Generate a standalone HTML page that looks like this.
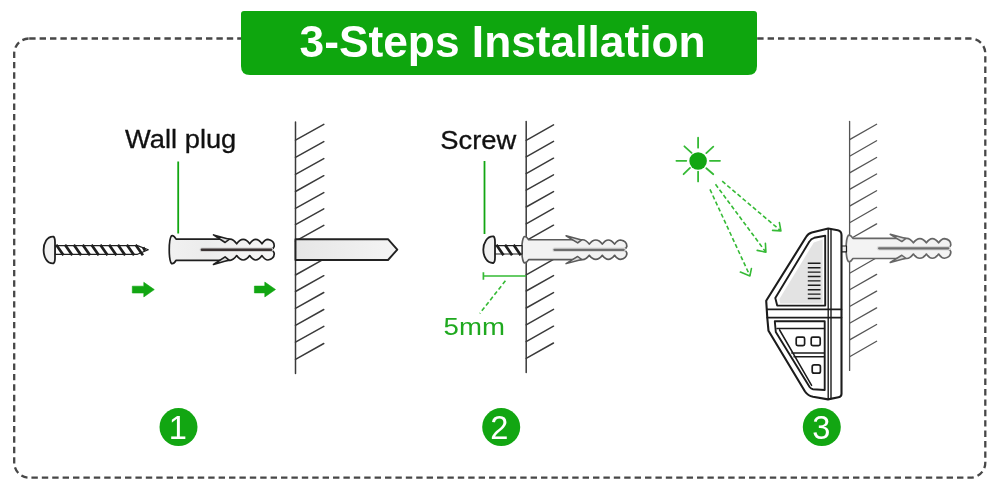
<!DOCTYPE html>
<html lang="en">
<head>
<meta charset="utf-8">
<title>3-Steps Installation</title>
<style>
html,body{margin:0;padding:0;background:#fff;}
body{width:1000px;height:496px;overflow:hidden;font-family:"Liberation Sans",Arial,sans-serif;}
svg{display:block;will-change:transform;}
text{font-family:"Liberation Sans",Arial,sans-serif;}
</style>
</head>
<body>
<svg width="1000" height="496" viewBox="0 0 1000 496">
<defs>
  <linearGradient id="gPlug" x1="0" y1="0" x2="1" y2="0">
    <stop offset="0" stop-color="#f1f1f1"/><stop offset="0.35" stop-color="#ececec"/><stop offset="1" stop-color="#f7f7f7"/>
  </linearGradient>
  <linearGradient id="gHole" x1="0" y1="0" x2="1" y2="0">
    <stop offset="0" stop-color="#e6e6e6"/><stop offset="1" stop-color="#f4f4f4"/>
  </linearGradient>
  <!-- wall plug: origin = left edge of flange, centre line y=0, length ~105 -->
  <g id="plug" stroke-linejoin="round" stroke-linecap="round">
    <path d="M2.4,-13.9 C-0.6,-10 -0.6,10 2.4,13.9 C4.4,14.6 5.6,13 7,10.6 L61,10.6
             Q64.2,10.6 67.6,5.9 Q70.6,10.3 74.1,10.3 Q77.6,10.3 80.6,5.9 Q83.6,10.3 86.6,10.3 Q89.8,10.3 92.9,5.9 Q95.8,10.3 98.8,10.3
             Q105.4,9.2 105.1,3.4 Q104.7,1.2 102.4,0.9 L102.4,-0.9
             Q104.7,-1.2 105.1,-3.4 Q105.4,-9.2 98.8,-10.3
             Q95.8,-10.3 92.9,-5.9 Q89.8,-10.3 86.6,-10.3 Q83.6,-10.3 80.6,-5.9 Q77.6,-10.3 74.1,-10.3 Q70.6,-10.3 67.6,-5.9 Q64.2,-10.6 61,-10.6
             L7,-10.6 C5.6,-13 4.4,-14.6 2.4,-13.9 Z" stroke-width="1.7"/>
    <path d="M60,-10.400 L44.400,-14.800 L56,-7.200 Z M60,10.400 L44.400,14.800 L56,7.200 Z" fill="#dcdcdc" stroke-width="1.600"/>
  </g>
  <g id="slotD" stroke-linecap="round" fill="none">
    <path d="M32.800,0 L102,0" stroke="#cfcfcf" stroke-width="4.600"/>
    <path d="M32.800,0 L102,0" stroke="#3b3333" stroke-width="2.500"/>
  </g>
  <g id="slotG" stroke-linecap="round" fill="none">
    <path d="M32.800,0 L102,0" stroke="#d8d8d8" stroke-width="4.400"/>
    <path d="M32.800,0 L102,0" stroke="#6e6e6e" stroke-width="2.300"/>
  </g>
</defs>

<!-- dashed frame -->
<rect x="14.200" y="38.500" width="971.100" height="439.200" rx="15" ry="15" fill="none" stroke="#474747" stroke-width="2.300" stroke-dasharray="6.400 4"/>

<!-- header -->
<path d="M244,11 H754 Q757,11 757,14 V66 Q757,75 748,75 H250 Q241,75 241,66 V14 Q241,11 244,11 Z" fill="#0ea60e"/>
<text x="502.600" y="57.200" font-size="44.300" font-weight="700" fill="#fff" text-anchor="middle">3-Steps Installation</text>

<!-- ============ STEP 1 ============ -->
<text transform="translate(125.100,148.300) scale(1.092,1)" font-size="25" fill="#111" stroke="#111" stroke-width="0.300">Wall plug</text>
<line x1="178.200" y1="161.500" x2="178.200" y2="233.500" stroke="#12a612" stroke-width="1.800"/>

<!-- wall 1 -->
<g stroke="#3a3a3a" stroke-width="1.500" fill="none" stroke-linecap="round">
  <line x1="295.500" y1="122" x2="295.500" y2="373.500"/>
  <path d="M295.5,140.2 l28.3,-15.8 M295.5,157.4 l28.3,-15.8 M295.5,174.4 l28.3,-15.8 M295.5,191.5 l28.3,-15.8 M295.5,208.4 l28.3,-15.8 M295.5,224.6 l28.3,-15.8 M295.5,241.2 l28.3,-15.8 M295.5,275.0 l28.3,-15.8 M295.5,291.5 l28.3,-15.8 M295.5,308.3 l28.3,-15.8 M295.5,325.3 l28.3,-15.8 M295.5,342.2 l28.3,-15.8 M295.5,359.3 l28.3,-15.8"/>
</g>
<!-- drilled hole -->
<path d="M295.500,239.200 H388 L397.300,249.600 L388,260 H295.500 Z" fill="url(#gHole)" stroke="#222" stroke-width="1.900" stroke-linejoin="round"/>

<!-- screw 1 -->
<g stroke="#1f1f1f" stroke-linejoin="round">
  <path d="M55,245.600 H137.500 L148.300,249.800 L137.500,254.300 H55 Z" fill="#fff" stroke-width="1.200"/>
  <path d="M56.2,244.7 l7.3,10.6 M65.0,244.7 l7.3,10.6 M73.8,244.7 l7.3,10.6 M82.7,244.7 l7.3,10.6 M91.5,244.7 l7.3,10.6 M100.3,244.7 l7.3,10.6 M109.1,244.7 l7.3,10.6 M117.9,244.7 l7.3,10.6 M126.8,244.7 l7.3,10.6 M135.6,244.7 l7.3,10.6 M143.200,247.400 l1.800,3.400" stroke-width="2.700" fill="none" stroke-linecap="butt"/>
  <path d="M53.400,236.600 C47,236.200 43.600,243 43.600,250 C43.600,257 47,263.800 53.400,263.400 C54.800,262.600 55,261 55,258 L55,242 C55,239 54.800,237.400 53.400,236.600 Z" fill="#f1f1f1" stroke-width="1.800"/>
</g>

<use href="#plug" x="169.100" y="249.700" stroke="#1f1f1f" fill="url(#gPlug)"/>
<use href="#slotD" x="169.100" y="249.800"/>

<!-- arrows -->
<path d="M132.300,286.200 H143.800 V282.300 L154.300,289.600 L143.800,296.900 V293 H132.300 Z" fill="#12a612" stroke="#12a612" stroke-width="0.600" stroke-linejoin="round"/>
<path d="M254.400,286.100 H264.800 V282.100 L275.500,289.500 L264.800,296.900 V292.900 H254.400 Z" fill="#12a612" stroke="#12a612" stroke-width="0.600" stroke-linejoin="round"/>

<!-- ============ STEP 2 ============ -->
<text transform="translate(440.300,148.600) scale(1.094,1)" font-size="25" fill="#111" stroke="#111" stroke-width="0.300">Screw</text>
<line x1="484.500" y1="161" x2="484.500" y2="234" stroke="#12a612" stroke-width="1.800"/>

<!-- wall 2 -->
<g stroke="#3a3a3a" stroke-width="1.500" fill="none" stroke-linecap="round">
  <line x1="526.200" y1="121.500" x2="526.200" y2="372.500"/>
  <path d="M526.2,140.3 l27.3,-15.4 M526.2,156.8 l27.3,-15.4 M526.2,173.6 l27.3,-15.4 M526.2,190.2 l27.3,-15.4 M526.2,207.0 l27.3,-15.4 M526.2,223.8 l27.3,-15.4 M526.2,240.6 l27.3,-15.4 M526.2,274.8 l27.3,-15.4 M526.2,291.0 l27.3,-15.4 M526.2,308.0 l27.3,-15.4 M526.2,324.8 l27.3,-15.4 M526.2,341.6 l27.3,-15.4 M526.2,358.4 l27.3,-15.4"/>
</g>
<use href="#plug" transform="translate(521.700,249.700) scale(1,0.940)" stroke="#5a5a5a" fill="#f2f2f2"/>
<use href="#slotG" x="521.700" y="249.800"/>
<!-- screw 2 -->
<g stroke="#1f1f1f" stroke-linejoin="round">
  <path d="M494,245.600 H522 V254 H494 Z" fill="#fff" stroke-width="1.200"/>
  <path d="M496.4,244.7 l7.1,10.5 M505.0,244.7 l7.1,10.5 M513.6,244.7 l7.1,10.5" stroke-width="2.700" fill="none" stroke-linecap="butt"/>
  <path d="M493.400,236.400 C487,236 483.300,243 483.300,249.700 C483.300,256.500 487,263.400 493.400,263 C494.800,262.200 495,260.600 495,257.600 L495,241.800 C495,238.800 494.800,237.200 493.400,236.400 Z" fill="#f1f1f1" stroke-width="1.800"/>
</g>
<!-- 5mm dimension -->
<g stroke="#35ba35" fill="none">
  <path d="M483.400,276 H526.200 M483.400,272.300 V279.700" stroke-width="1.700"/>
  <path d="M505.400,280.800 L479.800,313.400" stroke-width="1.600" stroke-dasharray="4.200 2.600"/>
</g>
<text transform="translate(443.600,335.300) scale(1.150,1)" font-size="24" fill="#1fa91f">5mm</text>

<!-- ============ STEP 3 ============ -->
<!-- wall 3 -->
<g stroke="#555" stroke-width="1.300" fill="none" stroke-linecap="round">
  <line x1="849.600" y1="121.500" x2="849.600" y2="370.400"/>
  <path d="M849.6,139.6 l27,-15.4 M849.6,156.2 l27,-15.4 M849.6,172.9 l27,-15.4 M849.6,189.4 l27,-15.4 M849.6,206.1 l27,-15.4 M849.6,222.7 l27,-15.4 M849.6,239.3 l27,-15.4 M849.6,273.2 l27,-15.4 M849.6,289.8 l27,-15.4 M849.6,306.5 l27,-15.4 M849.6,323.3 l27,-15.4 M849.6,339.9 l27,-15.4 M849.6,356.7 l27,-15.4"/>
</g>
<use href="#plug" transform="translate(846,248.400) scale(0.997,0.950)" stroke="#666" fill="#f3f3f3"/>
<use href="#slotG" x="846.300" y="248.300"/>

<!-- sun -->
<circle cx="698.100" cy="161" r="8.800" fill="#12a612"/>
<path d="M698.100,137.700 V147.700 M698.100,171.600 V181.400 M676.400,160.800 H686.300 M709.900,160.800 H720 M706.300,153.100 L713.300,146.700 M684.400,146.300 L691.600,152.800 M683.600,174.200 L690,167.900 M706.300,168.300 L713.300,174.200" stroke="#35ba35" stroke-width="1.800" stroke-linecap="round" fill="none"/>
<!-- beams -->
<g stroke="#35ba35" stroke-width="1.600" fill="none">
  <path d="M722.200,181.200 L780.500,230.600 M715.500,184.300 L765.600,251.800 M710,189.400 L749.800,275.500" stroke-dasharray="4.200 2.500"/>
  <path d="M779.400,222.600 L780.900,230.900 L772.600,230.400 M765.400,243.300 L765.900,252.200 L757.200,250.400 M751.400,268.600 L749.900,275.900 L740.400,272.100" stroke-linecap="round" stroke-linejoin="round"/>
</g>

<!-- lamp -->
<g stroke="#1c1c1c" stroke-width="1.700" fill="none" stroke-linejoin="round" stroke-linecap="round">
  <!-- neck between lamp and plug -->
  <path d="M841.500,246 H846.500 V251.800 H841.500" fill="#eee" stroke-width="1.200"/>
  <!-- outer body -->
  <path d="M766.200,300.800 L806.200,236.800 Q808,233.400 811.800,232.400 L828.200,228.500 L837.800,230.200 Q841.500,231 841.500,235 L841.500,394 Q841.500,396.600 838.500,397.200 L828,399.400 L813,396.800 Q808,395.800 805,391.500 L768.500,330.800 L767.300,318 L766.200,300.800 Z" fill="#fff" stroke-width="2.100"/>
  <!-- divider -->
  <path d="M766.800,309.300 H841.500 M767.300,317.600 H841.500"/>
  <!-- double vertical -->
  <path d="M828.200,228.700 V399.200 M831,229.400 V398.600" stroke-width="1.400"/>
  <!-- upper inner -->
  <path d="M775.300,298 L809.400,241.600 Q811,238.600 814.200,237.800 L825.200,235.700 V305.600 H777.200 Z" stroke-width="1.900"/>
  <path d="M779.400,299 L813.800,242.600 L822.600,239.400 V303.600 H780.200 Z" fill="#e3e3e3" stroke="none"/>
  <path d="M807.800,263.300 H820.500 M807.800,267.700 H820.500 M807.800,272.100 H820.500 M807.800,276.500 H820.500 M807.800,280.900 H820.500 M807.800,285.300 H820.500 M807.800,289.700 H820.500 M807.800,294.100 H820.500 M807.800,298.500 H820.500" stroke-width="1.400" stroke-linecap="butt"/>
  <!-- lower inner -->
  <path d="M774.800,321.300 H824.700 V390 L813,389.200 Q811,389 809.600,387 L775.800,332 Z" stroke-width="1.900"/>
  <path d="M777,328.600 H824 M779.600,330 L811.600,385.400 M791.800,352.900 H824 M794,356.800 H824" stroke-width="1.500"/>
  <rect x="796.200" y="337.200" width="8.400" height="8.400" rx="1.600" fill="#fff"/>
  <rect x="811.200" y="337.200" width="9" height="8.400" rx="1.600" fill="#fff"/>
  <rect x="812.200" y="364.800" width="8.200" height="8.400" rx="2" fill="#fff"/>
</g>

<!-- numbers -->
<g font-size="32.600" fill="#fff" text-anchor="middle">
  <circle cx="178.500" cy="427.100" r="19" fill="#12a612"/>
  <text x="177.700" y="439.200">1</text>
  <circle cx="501.200" cy="427.100" r="19" fill="#12a612"/>
  <text x="499.400" y="439.200">2</text>
  <circle cx="821.800" cy="427.100" r="19" fill="#12a612"/>
  <text x="821.200" y="439.300">3</text>
</g>
</svg>
</body>
</html>
